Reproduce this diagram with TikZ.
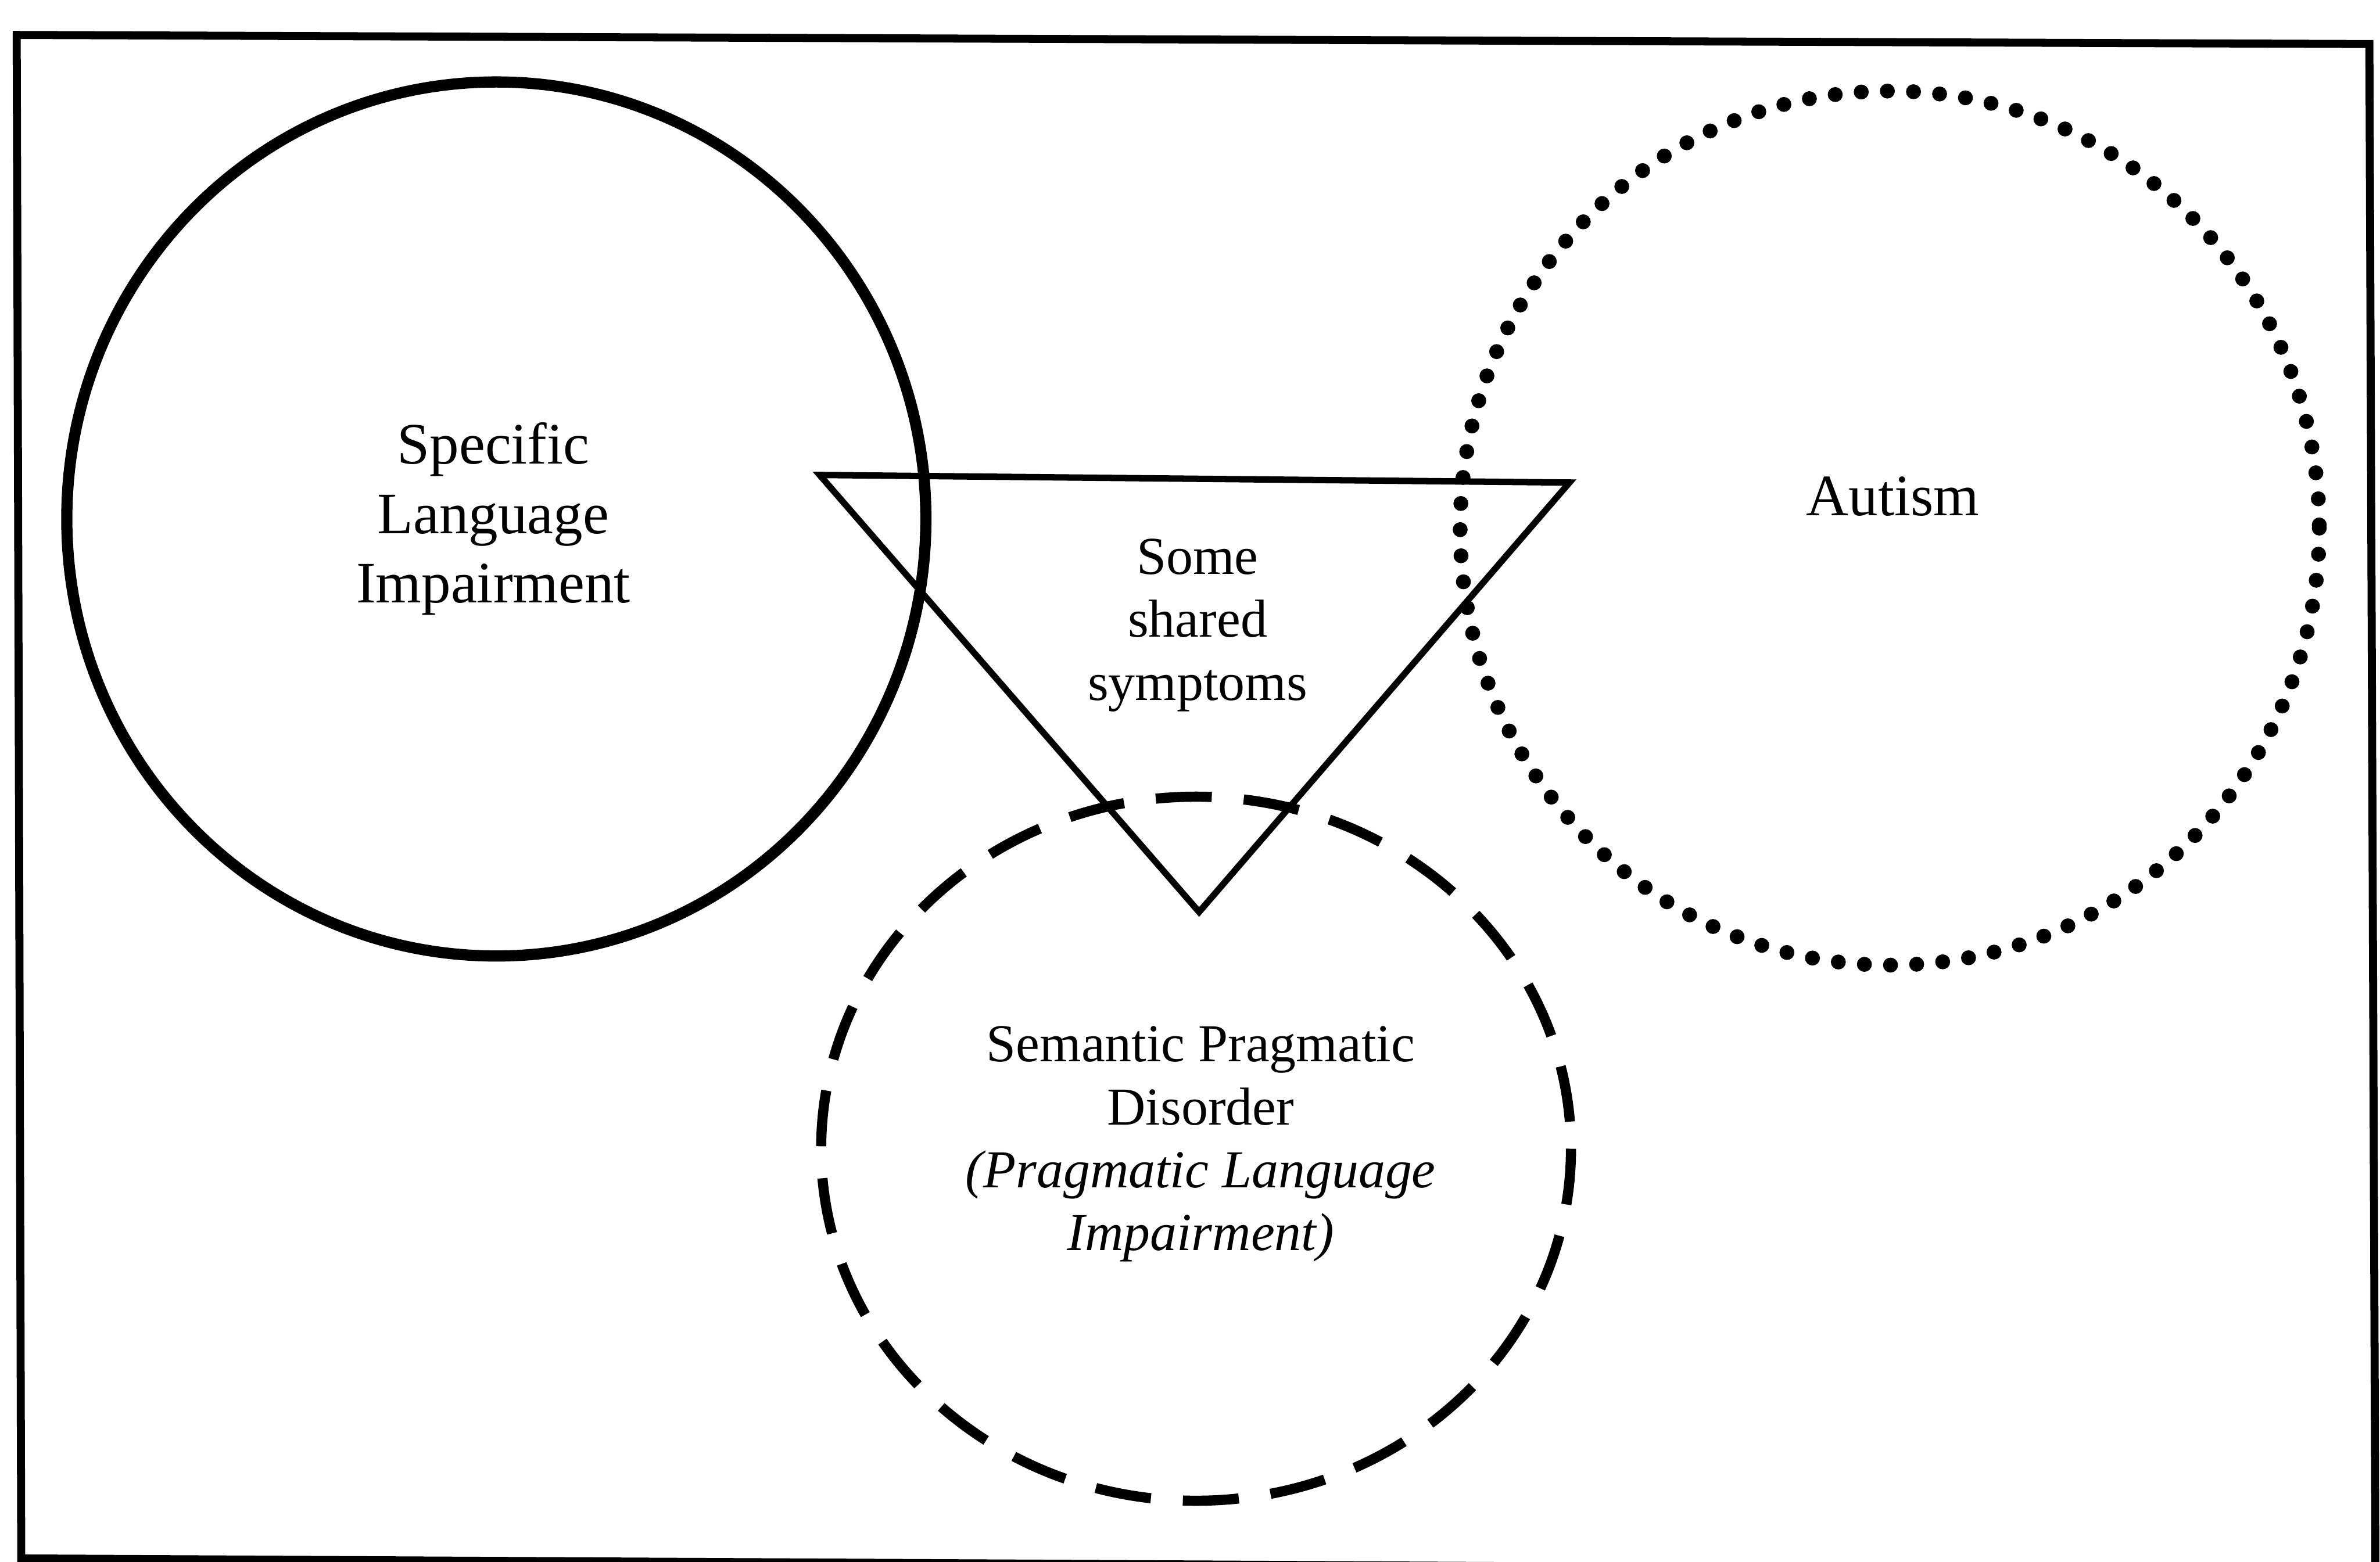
\documentclass[tikz,border=0pt]{standalone}
\usepackage{fontspec}
\setmainfont{Liberation Serif}
\begin{document}
\begin{tikzpicture}[
      x=0.01cm, y=-0.01cm,
      frame/.style={line width=1.5pt, draw=black},
      slicirc/.style={line width=2.1pt, draw=black},
      autcirc/.style={line width=2.8pt, draw=black, line cap=round,
        dash pattern=on 0pt off 4.9pt},
      spdcirc/.style={line width=1.9pt, draw=black, dash pattern=on 10.5pt off 6pt},
      tri/.style={line width=1.2pt, draw=black, line join=miter},
      biglabel/.style={align=center, inner sep=0pt, font=\fontsize{11}{13}\selectfont},
      smalllabel/.style={align=center, inner sep=0pt, font=\fontsize{10}{11.8}\selectfont},
    ]
    \useasboundingbox (0,0) rectangle (1568,1029);

    % -------------------------------------------------------
    %  Outer frame
    % -------------------------------------------------------
    \draw[frame] (11,23) -- (1561,29) -- (1565,1035) -- (14,1027) -- cycle;

    % -------------------------------------------------------
    %  The three groups
    % -------------------------------------------------------
    \coordinate (sli) at (327,342);
    \coordinate (aut) at (1245,348);
    \coordinate (spd) at (788,757);

    \draw[slicirc] (sli) ellipse [x radius=283, y radius=288];
    \draw[autcirc] (aut) ellipse [x radius=283, y radius=288];
    \draw[spdcirc] (spd) ellipse [x radius=247, y radius=232];

    % Shared symptoms (downward triangle)
    \coordinate (triL) at (540,313);
    \coordinate (triR) at (1034,318);
    \coordinate (triB) at (790,601);
    \draw[tri] (triL) -- (triR) -- (triB) -- cycle;

    % -------------------------------------------------------
    %  Labels
    % -------------------------------------------------------
    \node[biglabel] (slitext) at (325,342) {Specific\\Language\\Impairment};
    \node[biglabel] (auttext) at (1247,327) {Autism};
    \node[smalllabel] (symtext) at (789,412) {Some\\shared\\symptoms};
    \node[smalllabel] (spdtext) at (791,754)
      {Semantic Pragmatic\\Disorder\\\textit{(Pragmatic Language}\\\textit{Impairment)}};

  \end{tikzpicture}
\end{document}
